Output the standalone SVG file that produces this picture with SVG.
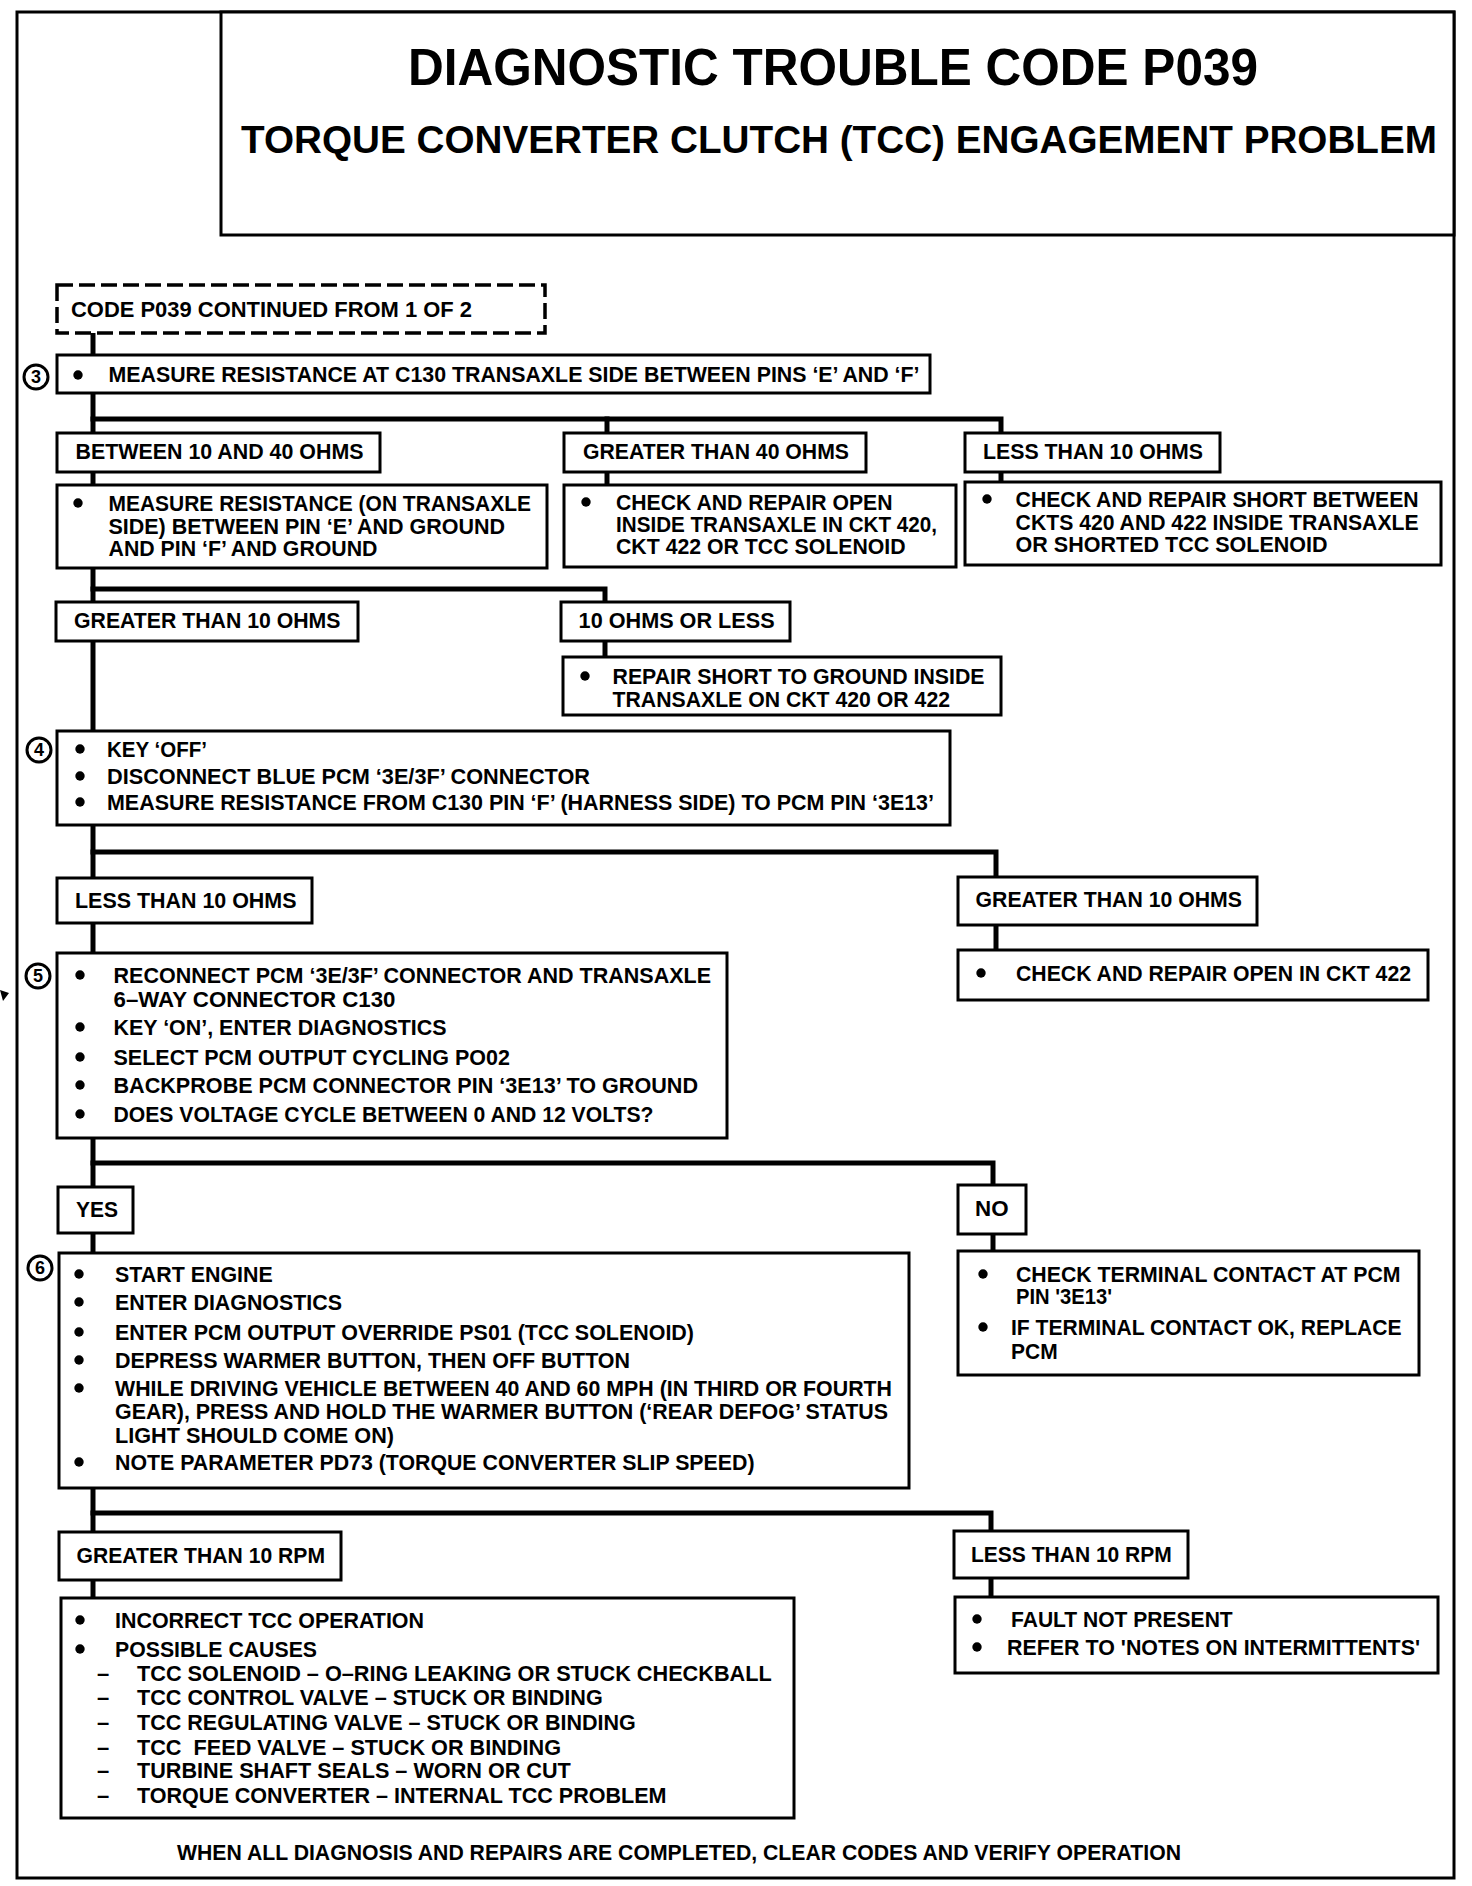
<svg xmlns="http://www.w3.org/2000/svg" width="1472" height="1886" viewBox="0 0 1472 1886">
<style>
.box{fill:#fff;stroke:#000;stroke-width:3}
.dash{fill:#fff;stroke:#000;stroke-width:3.5;stroke-dasharray:16 6}
.frame{fill:none;stroke:#000;stroke-width:3}
.conn{fill:none;stroke:#000;stroke-width:5;stroke-linejoin:miter;stroke-linecap:square}
.t{font-family:"Liberation Sans",Arial,Helvetica,sans-serif;font-weight:bold;font-size:22px;fill:#000}
.h1{font-family:"Liberation Sans",Arial,Helvetica,sans-serif;font-weight:bold;font-size:52px;fill:#000}
.h2{font-family:"Liberation Sans",Arial,Helvetica,sans-serif;font-weight:bold;font-size:38px;fill:#000}
.num{font-family:"Liberation Sans",Arial,Helvetica,sans-serif;font-weight:bold;font-size:18px;fill:#000;text-anchor:middle}
.circ{fill:#fff;stroke:#000;stroke-width:3}
.dot{fill:#000}
</style>
<rect width="1472" height="1886" fill="#fff"/>
<g id="frame">
<rect class="frame" x="17" y="12" width="1437" height="1866"/>
<polygon points="0,990 9,993 3,1001" fill="#000"/>
</g>
<g id="header">
<rect class="box" x="221" y="12" width="1233" height="223"/>
<text class="h1" x="408" y="85" textLength="850" lengthAdjust="spacingAndGlyphs">DIAGNOSTIC TROUBLE CODE P039</text>
<text class="h2" x="241" y="153" textLength="1196" lengthAdjust="spacingAndGlyphs">TORQUE CONVERTER CLUTCH (TCC) ENGAGEMENT PROBLEM</text>
</g>
<g id="connectors">
<path class="conn" d="M93,333 V355"/>
<path class="conn" d="M93,393 V433"/>
<path class="conn" d="M93,419 H1001 V433"/>
<path class="conn" d="M607,419 V433"/>
<path class="conn" d="M93,472 V485"/>
<path class="conn" d="M607,472 V485"/>
<path class="conn" d="M1001,472 V482"/>
<path class="conn" d="M93,568 V602"/>
<path class="conn" d="M93,589 H605 V602"/>
<path class="conn" d="M605,641 V657"/>
<path class="conn" d="M93,641 V731"/>
<path class="conn" d="M93,825 V878"/>
<path class="conn" d="M93,852 H996 V877"/>
<path class="conn" d="M93,923 V953"/>
<path class="conn" d="M996,925 V950"/>
<path class="conn" d="M93,1138 V1187"/>
<path class="conn" d="M93,1163 H993 V1185"/>
<path class="conn" d="M93,1233 V1253"/>
<path class="conn" d="M993,1234 V1251"/>
<path class="conn" d="M93,1488 V1532"/>
<path class="conn" d="M93,1513 H991 V1531"/>
<path class="conn" d="M93,1580 V1598"/>
<path class="conn" d="M991,1578 V1597"/>
</g>
<g id="n-continued">
<rect class="dash" x="57" y="285" width="488" height="48"/>
<text class="t" x="71" y="317" textLength="401" lengthAdjust="spacingAndGlyphs">CODE P039 CONTINUED FROM 1 OF 2</text>
</g>
<g id="n-step3">
<circle class="circ" cx="36" cy="377" r="12"/>
<text class="num" x="36" y="383">3</text>
<rect class="box" x="57" y="355" width="873" height="38"/>
<circle class="dot" cx="78" cy="375" r="4.7"/>
<text class="t" x="108.5" y="382" textLength="811" lengthAdjust="spacingAndGlyphs">MEASURE RESISTANCE AT C130 TRANSAXLE SIDE BETWEEN PINS ‘E’ AND ‘F’</text>
</g>
<g id="n-between10-40">
<rect class="box" x="57" y="433" width="323" height="39"/>
<text class="t" x="75.5" y="459" textLength="288" lengthAdjust="spacingAndGlyphs">BETWEEN 10 AND 40 OHMS</text>
</g>
<g id="n-gt40">
<rect class="box" x="564" y="433" width="302" height="39"/>
<text class="t" x="583" y="459" textLength="266" lengthAdjust="spacingAndGlyphs">GREATER THAN 40 OHMS</text>
</g>
<g id="n-lt10a">
<rect class="box" x="965" y="433" width="255" height="39"/>
<text class="t" x="983" y="459" textLength="220" lengthAdjust="spacingAndGlyphs">LESS THAN 10 OHMS</text>
</g>
<g id="n-measure-ground">
<rect class="box" x="57" y="485" width="490" height="83"/>
<circle class="dot" cx="78" cy="503" r="4.7"/>
<text class="t" x="108.5" y="511" textLength="422.5" lengthAdjust="spacingAndGlyphs">MEASURE RESISTANCE (ON TRANSAXLE</text>
<text class="t" x="108.5" y="534" textLength="396.5" lengthAdjust="spacingAndGlyphs">SIDE) BETWEEN PIN ‘E’ AND GROUND</text>
<text class="t" x="108.5" y="556" textLength="269" lengthAdjust="spacingAndGlyphs">AND PIN ‘F’ AND GROUND</text>
</g>
<g id="n-repair-open">
<rect class="box" x="564" y="485" width="392" height="82"/>
<circle class="dot" cx="586" cy="502" r="4.7"/>
<text class="t" x="616" y="510" textLength="276.5" lengthAdjust="spacingAndGlyphs">CHECK AND REPAIR OPEN</text>
<text class="t" x="616" y="532" textLength="321" lengthAdjust="spacingAndGlyphs">INSIDE TRANSAXLE IN CKT 420,</text>
<text class="t" x="616" y="554" textLength="289.6" lengthAdjust="spacingAndGlyphs">CKT 422 OR TCC SOLENOID</text>
</g>
<g id="n-repair-short">
<rect class="box" x="965" y="482" width="476" height="83"/>
<circle class="dot" cx="987" cy="499" r="4.7"/>
<text class="t" x="1015.6" y="507" textLength="403" lengthAdjust="spacingAndGlyphs">CHECK AND REPAIR SHORT BETWEEN</text>
<text class="t" x="1015.6" y="530" textLength="403" lengthAdjust="spacingAndGlyphs">CKTS 420 AND 422 INSIDE TRANSAXLE</text>
<text class="t" x="1015.6" y="552" textLength="312" lengthAdjust="spacingAndGlyphs">OR SHORTED TCC SOLENOID</text>
</g>
<g id="n-gt10a">
<rect class="box" x="56" y="602" width="302" height="39"/>
<text class="t" x="74" y="628" textLength="266.5" lengthAdjust="spacingAndGlyphs">GREATER THAN 10 OHMS</text>
</g>
<g id="n-10orless">
<rect class="box" x="561" y="602" width="229" height="39"/>
<text class="t" x="578.6" y="628" textLength="196" lengthAdjust="spacingAndGlyphs">10 OHMS OR LESS</text>
</g>
<g id="n-repair-ground">
<rect class="box" x="563" y="657" width="438" height="58"/>
<circle class="dot" cx="585" cy="676" r="4.7"/>
<text class="t" x="612.5" y="684" textLength="372" lengthAdjust="spacingAndGlyphs">REPAIR SHORT TO GROUND INSIDE</text>
<text class="t" x="612.5" y="706.5" textLength="337.5" lengthAdjust="spacingAndGlyphs">TRANSAXLE ON CKT 420 OR 422</text>
</g>
<g id="n-step4">
<circle class="circ" cx="39" cy="750" r="12"/>
<text class="num" x="39" y="756">4</text>
<rect class="box" x="57" y="731" width="893" height="94"/>
<circle class="dot" cx="80" cy="749" r="4.7"/>
<text class="t" x="107" y="757" textLength="100" lengthAdjust="spacingAndGlyphs">KEY ‘OFF’</text>
<circle class="dot" cx="80" cy="776" r="4.7"/>
<text class="t" x="107" y="784" textLength="483" lengthAdjust="spacingAndGlyphs">DISCONNECT BLUE PCM ‘3E/3F’ CONNECTOR</text>
<circle class="dot" cx="80" cy="802" r="4.7"/>
<text class="t" x="107" y="810" textLength="827" lengthAdjust="spacingAndGlyphs">MEASURE RESISTANCE FROM C130 PIN ‘F’ (HARNESS SIDE) TO PCM PIN ‘3E13’</text>
</g>
<g id="n-lt10b">
<rect class="box" x="57" y="878" width="255" height="45"/>
<text class="t" x="75" y="908" textLength="221.5" lengthAdjust="spacingAndGlyphs">LESS THAN 10 OHMS</text>
</g>
<g id="n-gt10b">
<rect class="box" x="958" y="877" width="299" height="48"/>
<text class="t" x="975.5" y="907" textLength="266.5" lengthAdjust="spacingAndGlyphs">GREATER THAN 10 OHMS</text>
</g>
<g id="n-open422">
<rect class="box" x="958" y="950" width="470" height="50"/>
<circle class="dot" cx="981" cy="973" r="4.7"/>
<text class="t" x="1016" y="981" textLength="395" lengthAdjust="spacingAndGlyphs">CHECK AND REPAIR OPEN IN CKT 422</text>
</g>
<g id="n-step5">
<circle class="circ" cx="38" cy="976" r="12"/>
<text class="num" x="38" y="982">5</text>
<rect class="box" x="57" y="953" width="670" height="185"/>
<circle class="dot" cx="80" cy="975" r="4.7"/>
<text class="t" x="113.5" y="983" textLength="597.5" lengthAdjust="spacingAndGlyphs">RECONNECT PCM ‘3E/3F’ CONNECTOR AND TRANSAXLE</text>
<text class="t" x="113.5" y="1007" textLength="282" lengthAdjust="spacingAndGlyphs">6–WAY CONNECTOR C130</text>
<circle class="dot" cx="80" cy="1027" r="4.7"/>
<text class="t" x="113.5" y="1035" textLength="333" lengthAdjust="spacingAndGlyphs">KEY ‘ON’, ENTER DIAGNOSTICS</text>
<circle class="dot" cx="80" cy="1057" r="4.7"/>
<text class="t" x="113.5" y="1065" textLength="396.5" lengthAdjust="spacingAndGlyphs">SELECT PCM OUTPUT CYCLING PO02</text>
<circle class="dot" cx="80" cy="1085" r="4.7"/>
<text class="t" x="113.5" y="1093" textLength="584.5" lengthAdjust="spacingAndGlyphs">BACKPROBE PCM CONNECTOR PIN ‘3E13’ TO GROUND</text>
<circle class="dot" cx="80" cy="1114" r="4.7"/>
<text class="t" x="113.5" y="1122" textLength="540" lengthAdjust="spacingAndGlyphs">DOES VOLTAGE CYCLE BETWEEN 0 AND 12 VOLTS?</text>
</g>
<g id="n-yes">
<rect class="box" x="58" y="1187" width="75" height="46"/>
<text class="t" x="76" y="1217" textLength="42" lengthAdjust="spacingAndGlyphs">YES</text>
</g>
<g id="n-no">
<rect class="box" x="958" y="1185" width="68" height="49"/>
<text class="t" x="975" y="1216" textLength="33.5" lengthAdjust="spacingAndGlyphs">NO</text>
</g>
<g id="n-no-result">
<rect class="box" x="958" y="1251" width="461" height="124"/>
<circle class="dot" cx="983" cy="1274" r="4.7"/>
<text class="t" x="1016" y="1282" textLength="384.5" lengthAdjust="spacingAndGlyphs">CHECK TERMINAL CONTACT AT PCM</text>
<text class="t" x="1016" y="1304" textLength="96" lengthAdjust="spacingAndGlyphs">PIN '3E13'</text>
<circle class="dot" cx="983" cy="1327" r="4.7"/>
<text class="t" x="1011" y="1335" textLength="390.6" lengthAdjust="spacingAndGlyphs">IF TERMINAL CONTACT OK, REPLACE</text>
<text class="t" x="1011" y="1358.5" textLength="46.6" lengthAdjust="spacingAndGlyphs">PCM</text>
</g>
<g id="n-step6">
<circle class="circ" cx="40" cy="1268" r="12"/>
<text class="num" x="40" y="1274">6</text>
<rect class="box" x="59" y="1253" width="850" height="235"/>
<circle class="dot" cx="79" cy="1274" r="4.7"/>
<text class="t" x="115" y="1282" textLength="157.7" lengthAdjust="spacingAndGlyphs">START ENGINE</text>
<circle class="dot" cx="79" cy="1302" r="4.7"/>
<text class="t" x="115" y="1310" textLength="227" lengthAdjust="spacingAndGlyphs">ENTER DIAGNOSTICS</text>
<circle class="dot" cx="79" cy="1332" r="4.7"/>
<text class="t" x="115" y="1340" textLength="579" lengthAdjust="spacingAndGlyphs">ENTER PCM OUTPUT OVERRIDE PS01 (TCC SOLENOID)</text>
<circle class="dot" cx="79" cy="1360" r="4.7"/>
<text class="t" x="115" y="1368" textLength="515" lengthAdjust="spacingAndGlyphs">DEPRESS WARMER BUTTON, THEN OFF BUTTON</text>
<circle class="dot" cx="79" cy="1388" r="4.7"/>
<text class="t" x="115" y="1396" textLength="777" lengthAdjust="spacingAndGlyphs">WHILE DRIVING VEHICLE BETWEEN 40 AND 60 MPH (IN THIRD OR FOURTH</text>
<text class="t" x="115" y="1419" textLength="773" lengthAdjust="spacingAndGlyphs">GEAR), PRESS AND HOLD THE WARMER BUTTON (‘REAR DEFOG’ STATUS</text>
<text class="t" x="115" y="1443" textLength="279" lengthAdjust="spacingAndGlyphs">LIGHT SHOULD COME ON)</text>
<circle class="dot" cx="79" cy="1462" r="4.7"/>
<text class="t" x="115" y="1470" textLength="639.5" lengthAdjust="spacingAndGlyphs">NOTE PARAMETER PD73 (TORQUE CONVERTER SLIP SPEED)</text>
</g>
<g id="n-gt10rpm">
<rect class="box" x="59" y="1532" width="282" height="48"/>
<text class="t" x="76.5" y="1563" textLength="248.5" lengthAdjust="spacingAndGlyphs">GREATER THAN 10 RPM</text>
</g>
<g id="n-lt10rpm">
<rect class="box" x="954" y="1531" width="234" height="47"/>
<text class="t" x="971" y="1562" textLength="200.8" lengthAdjust="spacingAndGlyphs">LESS THAN 10 RPM</text>
</g>
<g id="n-incorrect">
<rect class="box" x="61" y="1598" width="733" height="220"/>
<circle class="dot" cx="80" cy="1620" r="4.7"/>
<text class="t" x="115" y="1628" textLength="309" lengthAdjust="spacingAndGlyphs">INCORRECT TCC OPERATION</text>
<circle class="dot" cx="80" cy="1649" r="4.7"/>
<text class="t" x="115" y="1657" textLength="202" lengthAdjust="spacingAndGlyphs">POSSIBLE CAUSES</text>
<text class="t" x="97" y="1681">–</text>
<text class="t" x="137" y="1681" textLength="634.7" lengthAdjust="spacingAndGlyphs">TCC SOLENOID – O–RING LEAKING OR STUCK CHECKBALL</text>
<text class="t" x="97" y="1705">–</text>
<text class="t" x="137" y="1705" textLength="465.7" lengthAdjust="spacingAndGlyphs">TCC CONTROL VALVE – STUCK OR BINDING</text>
<text class="t" x="97" y="1730">–</text>
<text class="t" x="137" y="1730" textLength="498.8" lengthAdjust="spacingAndGlyphs">TCC REGULATING VALVE – STUCK OR BINDING</text>
<text class="t" x="97" y="1755">–</text>
<text class="t" x="137" y="1755" textLength="424" lengthAdjust="spacingAndGlyphs" xml:space="preserve" style="white-space:pre">TCC  FEED VALVE – STUCK OR BINDING</text>
<text class="t" x="97" y="1778">–</text>
<text class="t" x="137" y="1778" textLength="433.8" lengthAdjust="spacingAndGlyphs">TURBINE SHAFT SEALS – WORN OR CUT</text>
<text class="t" x="97" y="1803">–</text>
<text class="t" x="137" y="1803" textLength="529.5" lengthAdjust="spacingAndGlyphs">TORQUE CONVERTER – INTERNAL TCC PROBLEM</text>
</g>
<g id="n-fault">
<rect class="box" x="955" y="1597" width="483" height="76"/>
<circle class="dot" cx="977" cy="1619" r="4.7"/>
<text class="t" x="1011" y="1627" textLength="221.7" lengthAdjust="spacingAndGlyphs">FAULT NOT PRESENT</text>
<circle class="dot" cx="977" cy="1647" r="4.7"/>
<text class="t" x="1007" y="1655" textLength="413" lengthAdjust="spacingAndGlyphs">REFER TO 'NOTES ON INTERMITTENTS'</text>
</g>
<g id="footer">
<text class="t" x="177" y="1860" textLength="1004" lengthAdjust="spacingAndGlyphs">WHEN ALL DIAGNOSIS AND REPAIRS ARE COMPLETED, CLEAR CODES AND VERIFY OPERATION</text>
</g>
</svg>
